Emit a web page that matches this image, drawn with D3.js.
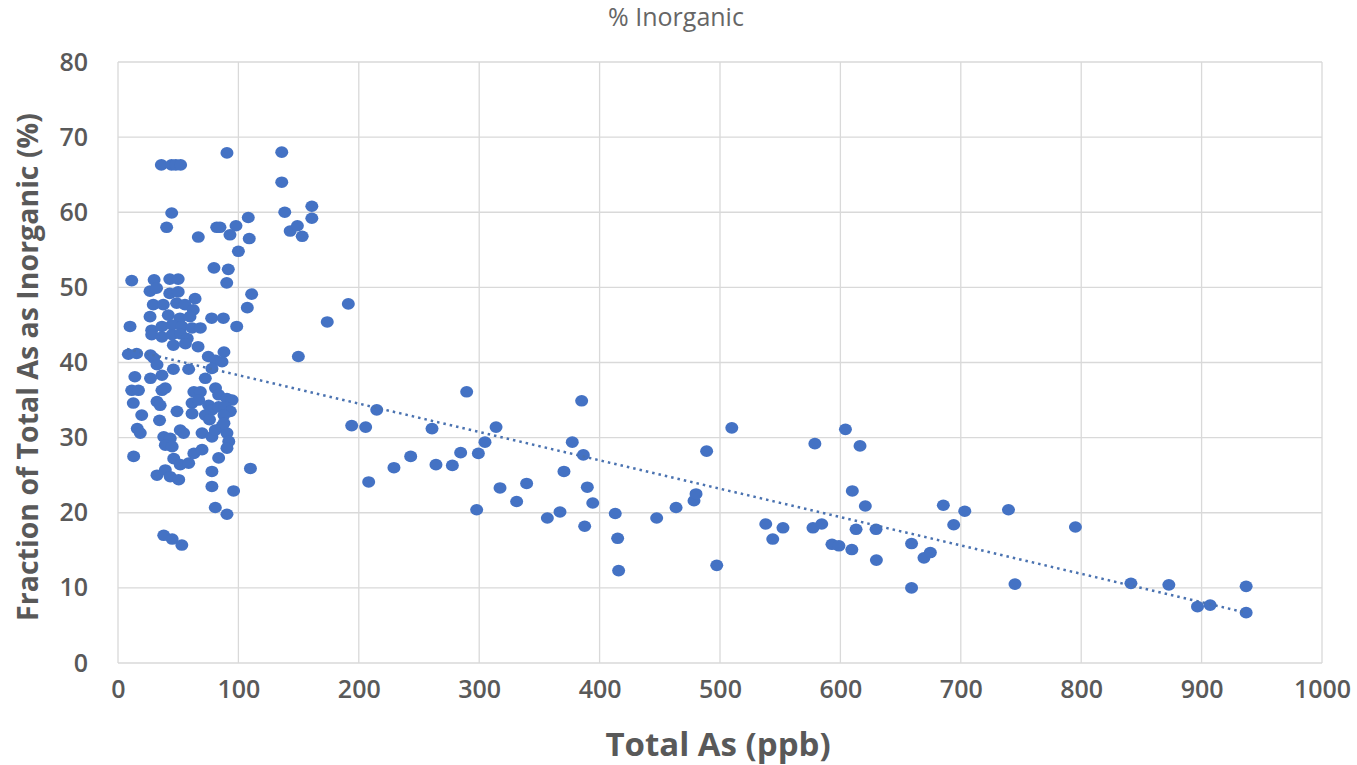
<!DOCTYPE html>
<html lang="en">
<head>
<meta charset="UTF-8">
<title>% Inorganic</title>
<script src="https://cdn.jsdelivr.net/npm/d3@7/dist/d3.min.js"></script>
<style>
  body { margin: 0; background: #fff; }
  svg text { font-family: "Open Sans", "Liberation Sans", sans-serif; fill: #595959; }
</style>
</head>
<body>
<svg id="chart" width="1357" height="765"></svg>
<script>
// total As (ppb) and % inorganic
const totalAs = [
  36, 44.5, 48, 52, 90.5,
  44.6, 40.4, 66.7, 82, 84.7, 98, 93, 108.2, 109, 100, 79.7, 91.6, 90.3, 111, 107.4,
  136, 136, 138.5, 161, 161, 143, 149, 153, 173.8, 191.3, 149.8,
  11.4, 30, 43, 50, 26.6, 32, 43, 50, 64, 29.3, 37.6, 48.7, 55.6, 62.5,
  26.6, 41.8, 51.5, 59.8, 77.8, 87.5, 10, 98.6,
  28, 36.5, 45, 53, 61.5, 68.4, 28, 36.5, 45, 52, 57.5,
  46, 56, 66.5,
  8.6, 15.5, 27, 29.6, 75, 81, 88, 86.4,
  32.4, 36.5, 46, 58.7, 78, 14, 27, 72.5,
  11.4, 17, 36.5, 39.3, 63, 68.4, 81, 83.6, 90.5, 94.7,
  12.7, 32.4, 35, 61.5, 67, 75.3, 78, 83.6, 89, 93.3,
  19.7, 49, 61.5, 72.5, 88, 34.5, 76,
  16, 18.5, 38, 43.4, 39.3, 45, 51.7, 54.5, 69.8, 78, 80.8, 86.4, 90.5, 92, 90.5, 88,
  13, 46.3, 51.7, 58.7, 63, 69.8, 83.6,
  32.4, 39.3, 43.4, 50.4, 78, 110, 78, 96,
  80.8, 90.5, 38, 45, 53,
  194.1, 205.7, 214.9, 208.2, 229.2, 243.1, 260.8, 264.1, 277.7, 284.6, 289.6,
  297.9, 299.3, 304.8, 314, 317.3, 331.1, 339.4, 356.6, 367.1, 370.4, 377.3,
  385.1, 386.5, 389.8, 394.3, 387.6, 413, 415, 415.8, 447.4, 463.5, 478.4, 480.1,
  488.9, 497.3, 509.8, 538, 543.8, 552.3, 578.8, 577.2, 584.5, 593, 598.8,
  604.2, 616.3, 609.9, 620.7, 613, 609.5, 629.6, 629.9, 659.1, 659.1, 669.4, 674.7,
  685.5, 694.1, 703.3, 739.6, 745, 795.2, 841.3, 872.8, 896.6, 907.1, 937, 937
];
const pctInorganic = [
  66.3, 66.3, 66.3, 66.3, 67.9,
  59.9, 58, 56.7, 58, 58, 58.2, 57, 59.3, 56.5, 54.8, 52.6, 52.4, 50.6, 49.1, 47.3,
  68, 64, 60, 60.8, 59.2, 57.5, 58.2, 56.8, 45.4, 47.8, 40.8,
  50.9, 51, 51.1, 51.1, 49.5, 49.9, 49.2, 49.4, 48.5, 47.7, 47.7, 47.9, 47.7, 47,
  46.1, 46.3, 45.9, 46.1, 45.9, 45.9, 44.8, 44.8,
  44.3, 44.8, 45, 44.8, 44.6, 44.6, 43.7, 43.4, 43.7, 43.8, 43.2,
  42.3, 42.5, 42.1,
  41.1, 41.2, 41, 40.6, 40.8, 40.3, 41.4, 40.1,
  39.7, 38.3, 39.1, 39.1, 39.2, 38.1, 37.9, 37.9,
  36.3, 36.3, 36.3, 36.6, 36.1, 36.1, 36.6, 35.7, 35.2, 35,
  34.6, 34.8, 34.3, 34.6, 35, 34.3, 33.7, 34.1, 34.1, 33.5,
  33, 33.5, 33.2, 33, 33, 32.3, 32.4,
  31.2, 30.6, 30.1, 29.9, 29, 28.8, 31, 30.6, 30.6, 30.1, 31, 31.5, 30.6, 29.5, 28.6, 31.9,
  27.5, 27.2, 26.4, 26.6, 27.9, 28.4, 27.3,
  25, 25.7, 24.8, 24.4, 25.5, 25.9, 23.5, 22.9,
  20.7, 19.8, 17, 16.5, 15.7,
  31.6, 31.4, 33.7, 24.1, 26, 27.5, 31.2, 26.4, 26.3, 28, 36.1,
  20.4, 27.9, 29.4, 31.4, 23.3, 21.5, 23.9, 19.3, 20.1, 25.5, 29.4,
  34.9, 27.7, 23.4, 21.3, 18.2, 19.9, 16.6, 12.3, 19.3, 20.7, 21.6, 22.5,
  28.2, 13, 31.3, 18.5, 16.5, 18, 29.2, 18, 18.5, 15.8, 15.6,
  31.1, 28.9, 22.9, 20.9, 17.8, 15.1, 17.8, 13.7, 15.9, 10, 14, 14.7,
  21, 18.4, 20.2, 20.4, 10.5, 18.1, 10.6, 10.4, 7.5, 7.7, 10.2, 6.7
];
// linear trendline ends
const trendX = [7.5, 937];
const trendY = [41.8, 6.7];

const xTicks = d3.range(0, 1001, 100);
const yTicks = d3.range(0, 81, 10);

const svg = d3.select('#chart');
const margin = { left: 118, right: 35, top: 62, bottom: 102 };
const W = 1357, H = 765;

const x = d3.scaleLinear().domain([0, 1000]).range([margin.left, W - margin.right]);
const y = d3.scaleLinear().domain([0, 80]).range([H - margin.bottom, margin.top]);

// gridlines
svg.append('g')
  .selectAll('line.vg')
  .data(xTicks)
  .join('line')
  .attr('x1', d => x(d)).attr('x2', d => x(d))
  .attr('y1', y(0)).attr('y2', y(80))
  .attr('stroke', '#d9d9d9').attr('stroke-width', 1.3);

svg.append('g')
  .selectAll('line.hg')
  .data(yTicks)
  .join('line')
  .attr('x1', x(0)).attr('x2', x(1000))
  .attr('y1', d => y(d)).attr('y2', d => y(d))
  .attr('stroke', '#d9d9d9').attr('stroke-width', 1.3);

// axes, labels only
const xAxis = svg.append('g')
  .attr('transform', `translate(0,${y(0)})`)
  .call(d3.axisBottom(x).tickValues(xTicks).tickFormat(d3.format('d')).tickSize(0).tickPadding(17));
const yAxis = svg.append('g')
  .attr('transform', `translate(${x(0)},0)`)
  .call(d3.axisLeft(y).tickValues(yTicks).tickFormat(d3.format('d')).tickSize(0).tickPadding(30));

[xAxis, yAxis].forEach(a => {
  a.select('.domain').remove();
  a.selectAll('text')
    .style('font-size', '25px')
    .style('font-weight', 600)
    .attr('fill', '#595959');
});

// points
svg.append('g')
  .selectAll('ellipse')
  .data(totalAs.map((v, i) => [v, pctInorganic[i]]))
  .join('ellipse')
  .attr('cx', d => x(d[0]))
  .attr('cy', d => y(d[1]))
  .attr('rx', 6.5)
  .attr('ry', 5.8)
  .attr('fill', '#4472c4');

// trendline
svg.append('line')
  .attr('x1', x(trendX[0])).attr('y1', y(trendY[0]))
  .attr('x2', x(trendX[1])).attr('y2', y(trendY[1]))
  .attr('stroke', '#4a72b0')
  .attr('stroke-width', 2.5)
  .attr('stroke-dasharray', '2.5 4');

// titles
svg.append('text')
  .attr('x', 676).attr('y', 26)
  .attr('text-anchor', 'middle')
  .style('font-size', '25px')
  .style('fill', '#666')
  .text('% Inorganic');

svg.append('text')
  .attr('x', 718).attr('y', 756)
  .attr('text-anchor', 'middle')
  .style('font-size', '33px')
  .style('font-weight', 700)
  .text('Total As (ppb)');

svg.append('text')
  .attr('transform', 'translate(38,367) rotate(-90)')
  .attr('text-anchor', 'middle')
  .style('font-size', '28.5px')
  .style('font-weight', 700)
  .text('Fraction of Total As as Inorganic (%)');
</script>
</body>
</html>
